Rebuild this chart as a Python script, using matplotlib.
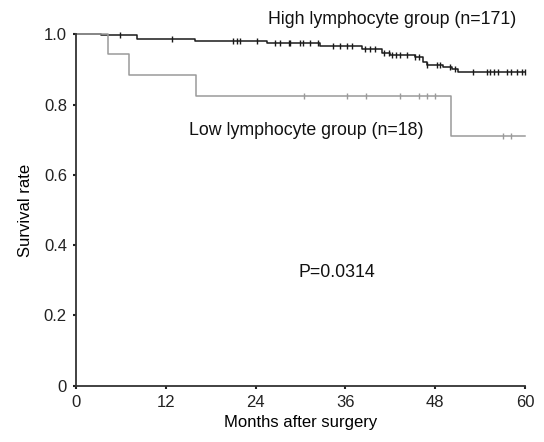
import numpy as np
import matplotlib
matplotlib.use('Agg')
import matplotlib.pyplot as plt

plt.rcParams['font.family'] = ['Liberation Sans', 'DejaVu Sans']

# Kaplan-Meier step data (months, survival)
high_times = [0, 3.4, 8.1, 15.9, 25.5, 32.6, 38.2, 40.9, 42.0, 45.3, 46.4, 46.9, 49.1, 50.2, 51.0, 60]
high_surv = [1.0, 0.997, 0.987, 0.982, 0.976, 0.968, 0.957, 0.946, 0.941, 0.934, 0.922, 0.913, 0.908, 0.900, 0.892, 0.892]
high_censor = [5.9, 12.8, 21.0, 21.5, 21.9, 24.2, 26.6, 27.3, 28.4, 28.6, 29.9, 30.4, 31.3, 32.4,
               34.4, 35.3, 36.2, 36.9, 38.6, 39.3, 40.0, 41.1, 41.8, 42.2, 42.7, 43.3, 44.2, 45.3,
               45.8, 46.9, 48.2, 48.7, 50.0, 50.7, 53.1, 54.9, 55.3, 55.8, 56.4, 57.6, 58.2, 58.9,
               59.6, 60.0]

low_times = [0, 4.3, 7.1, 16.1, 50.1, 60]
low_surv = [1.0, 0.944, 0.885, 0.825, 0.71, 0.71]
low_censor = [30.5, 36.2, 38.8, 43.3, 45.8, 46.9, 48.0, 57.1, 58.1]

x_ticks = [0, 12, 24, 36, 48, 60]
y_ticks = [0, 0.2, 0.4, 0.6, 0.8, 1.0]
y_labels = ['0', '0.2', '0.4', '0.6', '0.8', '1.0']


def surv_at(times, surv, t):
    idx = np.searchsorted(times, t, side='right') - 1
    return np.asarray(surv)[idx]


fig = plt.figure(figsize=(5.44, 4.42), dpi=100)
ax = fig.add_axes([0.1397, 0.1274, 0.8253, 0.795])

for times, surv, cens, color in [(high_times, high_surv, high_censor, '#1a1a1a'),
                                 (low_times, low_surv, low_censor, '#9a9a9a')]:
    ax.step(times, surv, where='post', color=color, lw=1.1, clip_on=False)
    ax.plot(cens, surv_at(times, surv, cens), ls='none', marker='|', ms=4.5,
            mew=1.0, color=color, clip_on=False)

ax.set_xlim(0, 60)
ax.set_ylim(0, 1.0)
ax.set_xticks(x_ticks)
ax.set_yticks(y_ticks)
ax.set_yticklabels(y_labels)
ax.tick_params(direction='out', length=2.5, width=1.5, labelsize=12, colors='#222222', pad=4)
for s in ['top', 'right']:
    ax.spines[s].set_visible(False)
for s in ['left', 'bottom']:
    ax.spines[s].set_linewidth(1.3)
    ax.spines[s].set_color('#333333')

ax.set_xlabel('Months after surgery', fontsize=12, labelpad=4)
ax.set_ylabel('Survival rate', fontsize=12, labelpad=8)

fig.text(392 / 544, 1 - 20 / 442, 'High lymphocyte group (n=171)', fontsize=12.8,
         ha='center', va='center', color='#111111')
ax.text(30.8, 0.727, 'Low lymphocyte group (n=18)', fontsize=12.8,
        ha='center', va='center', color='#111111')
ax.text(34.9, 0.322, 'P=0.0314', fontsize=12.8, ha='center', va='center', color='#111111')

fig.savefig('out.png', dpi=100)
